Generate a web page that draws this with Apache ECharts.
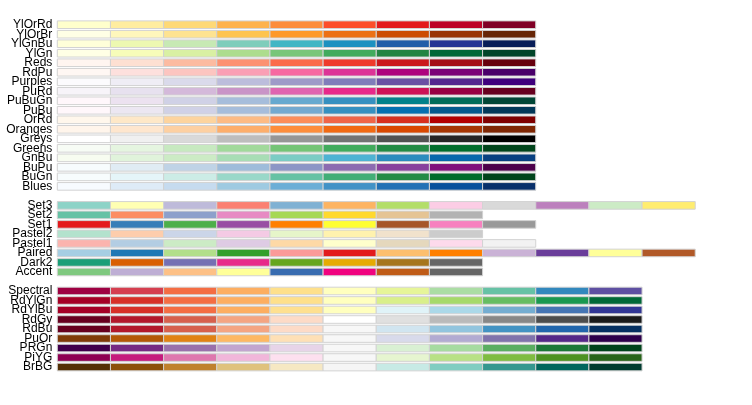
<!DOCTYPE html>
<html>
<head>
<meta charset="utf-8">
<script src="https://cdn.jsdelivr.net/npm/echarts@6/dist/echarts.min.js"></script>
<style>
    html, body { margin: 0; padding: 0; background: #fff; }
    #brewer-chart { width: 752px; height: 405px; }
</style>
</head>
<body>
<div id="brewer-chart"></div>
<script>
    // sequential
    const YlOrRd = ["#FFFFCC", "#FFEDA0", "#FED976", "#FEB24C", "#FD8D3C", "#FC4E2A", "#E31A1C", "#BD0026", "#800026"];
    const YlOrBr = ["#FFFFE5", "#FFF7BC", "#FEE391", "#FEC44F", "#FE9929", "#EC7014", "#CC4C02", "#993404", "#662506"];
    const YlGnBu = ["#FFFFD9", "#EDF8B1", "#C7E9B4", "#7FCDBB", "#41B6C4", "#1D91C0", "#225EA8", "#253494", "#081D58"];
    const YlGn = ["#FFFFE5", "#F7FCB9", "#D9F0A3", "#ADDD8E", "#78C679", "#41AB5D", "#238443", "#006837", "#004529"];
    const Reds = ["#FFF5F0", "#FEE0D2", "#FCBBA1", "#FC9272", "#FB6A4A", "#EF3B2C", "#CB181D", "#A50F15", "#67000D"];
    const RdPu = ["#FFF7F3", "#FDE0DD", "#FCC5C0", "#FA9FB5", "#F768A1", "#DD3497", "#AE017E", "#7A0177", "#49006A"];
    const Purples = ["#FCFBFD", "#EFEDF5", "#DADAEB", "#BCBDDC", "#9E9AC8", "#807DBA", "#6A51A3", "#54278F", "#3F007D"];
    const PuRd = ["#F7F4F9", "#E7E1EF", "#D4B9DA", "#C994C7", "#DF65B0", "#E7298A", "#CE1256", "#980043", "#67001F"];
    const PuBuGn = ["#FFF7FB", "#ECE2F0", "#D0D1E6", "#A6BDDB", "#67A9CF", "#3690C0", "#02818A", "#016C59", "#014636"];
    const PuBu = ["#FFF7FB", "#ECE7F2", "#D0D1E6", "#A6BDDB", "#74A9CF", "#3690C0", "#0570B0", "#045A8D", "#023858"];
    const OrRd = ["#FFF7EC", "#FEE8C8", "#FDD49E", "#FDBB84", "#FC8D59", "#EF6548", "#D7301F", "#B30000", "#7F0000"];
    const Oranges = ["#FFF5EB", "#FEE6CE", "#FDD0A2", "#FDAE6B", "#FD8D3C", "#F16913", "#D94801", "#A63603", "#7F2704"];
    const Greys = ["#FFFFFF", "#F0F0F0", "#D9D9D9", "#BDBDBD", "#969696", "#737373", "#525252", "#252525", "#000000"];
    const Greens = ["#F7FCF5", "#E5F5E0", "#C7E9C0", "#A1D99B", "#74C476", "#41AB5D", "#238B45", "#006D2C", "#00441B"];
    const GnBu = ["#F7FCF0", "#E0F3DB", "#CCEBC5", "#A8DDB5", "#7BCCC4", "#4EB3D3", "#2B8CBE", "#0868AC", "#084081"];
    const BuPu = ["#F7FCFD", "#E0ECF4", "#BFD3E6", "#9EBCDA", "#8C96C6", "#8C6BB1", "#88419D", "#810F7C", "#4D004B"];
    const BuGn = ["#F7FCFD", "#E5F5F9", "#CCECE6", "#99D8C9", "#66C2A4", "#41AE76", "#238B45", "#006D2C", "#00441B"];
    const Blues = ["#F7FBFF", "#DEEBF7", "#C6DBEF", "#9ECAE1", "#6BAED6", "#4292C6", "#2171B5", "#08519C", "#08306B"];

    // qualitative
    const Set3 = ["#8DD3C7", "#FFFFB3", "#BEBADA", "#FB8072", "#80B1D3", "#FDB462", "#B3DE69", "#FCCDE5", "#D9D9D9", "#BC80BD", "#CCEBC5", "#FFED6F"];
    const Set2 = ["#66C2A5", "#FC8D62", "#8DA0CB", "#E78AC3", "#A6D854", "#FFD92F", "#E5C494", "#B3B3B3"];
    const Set1 = ["#E41A1C", "#377EB8", "#4DAF4A", "#984EA3", "#FF7F00", "#FFFF33", "#A65628", "#F781BF", "#999999"];
    const Pastel2 = ["#B3E2CD", "#FDCDAC", "#CBD5E8", "#F4CAE4", "#E6F5C9", "#FFF2AE", "#F1E2CC", "#CCCCCC"];
    const Pastel1 = ["#FBB4AE", "#B3CDE3", "#CCEBC5", "#DECBE4", "#FED9A6", "#FFFFCC", "#E5D8BD", "#FDDAEC", "#F2F2F2"];
    const Paired = ["#A6CEE3", "#1F78B4", "#B2DF8A", "#33A02C", "#FB9A99", "#E31A1C", "#FDBF6F", "#FF7F00", "#CAB2D6", "#6A3D9A", "#FFFF99", "#B15928"];
    const Dark2 = ["#1B9E77", "#D95F02", "#7570B3", "#E7298A", "#66A61E", "#E6AB02", "#A6761D", "#666666"];
    const Accent = ["#7FC97F", "#BEAED4", "#FDC086", "#FFFF99", "#386CB0", "#F0027F", "#BF5B17", "#666666"];

    // diverging
    const Spectral = ["#9E0142", "#D53E4F", "#F46D43", "#FDAE61", "#FEE08B", "#FFFFBF", "#E6F598", "#ABDDA4", "#66C2A5", "#3288BD", "#5E4FA2"];
    const RdYlGn = ["#A50026", "#D73027", "#F46D43", "#FDAE61", "#FEE08B", "#FFFFBF", "#D9EF8B", "#A6D96A", "#66BD63", "#1A9850", "#006837"];
    const RdYlBu = ["#A50026", "#D73027", "#F46D43", "#FDAE61", "#FEE090", "#FFFFBF", "#E0F3F8", "#ABD9E9", "#74ADD1", "#4575B4", "#313695"];
    const RdGy = ["#67001F", "#B2182B", "#D6604D", "#F4A582", "#FDDBC7", "#FFFFFF", "#E0E0E0", "#BABABA", "#878787", "#4D4D4D", "#1A1A1A"];
    const RdBu = ["#67001F", "#B2182B", "#D6604D", "#F4A582", "#FDDBC7", "#F7F7F7", "#D1E5F0", "#92C5DE", "#4393C3", "#2166AC", "#053061"];
    const PuOr = ["#7F3B08", "#B35806", "#E08214", "#FDB863", "#FEE0B6", "#F7F7F7", "#D8DAEB", "#B2ABD2", "#8073AC", "#542788", "#2D004B"];
    const PRGn = ["#40004B", "#762A83", "#9970AB", "#C2A5CF", "#E7D4E8", "#F7F7F7", "#D9F0D3", "#A6DBA0", "#5AAE61", "#1B7837", "#00441B"];
    const PiYG = ["#8E0152", "#C51B7D", "#DE77AE", "#F1B6DA", "#FDE0EF", "#F7F7F7", "#E6F5D0", "#B8E186", "#7FBC41", "#4D9221", "#276419"];
    const BrBG = ["#543005", "#8C510A", "#BF812D", "#DFC27D", "#F6E8C3", "#F5F5F5", "#C7EAE5", "#80CDC1", "#35978F", "#01665E", "#003C30"];

    // row order top to bottom, "" = empty gap row
    const rowNames = [
        "YlOrRd", "YlOrBr", "YlGnBu", "YlGn", "Reds", "RdPu", "Purples", "PuRd", "PuBuGn",
        "PuBu", "OrRd", "Oranges", "Greys", "Greens", "GnBu", "BuPu", "BuGn", "Blues",
        "",
        "Set3", "Set2", "Set1", "Pastel2", "Pastel1", "Paired", "Dark2", "Accent",
        "",
        "Spectral", "RdYlGn", "RdYlBu", "RdGy", "RdBu", "PuOr", "PRGn", "PiYG", "BrBG"
    ];
    const palettes = {
        YlOrRd, YlOrBr, YlGnBu, YlGn, Reds, RdPu, Purples, PuRd, PuBuGn, PuBu, OrRd, Oranges,
        Greys, Greens, GnBu, BuPu, BuGn, Blues,
        Set3, Set2, Set1, Pastel2, Pastel1, Paired, Dark2, Accent,
        Spectral, RdYlGn, RdYlBu, RdGy, RdBu, PuOr, PRGn, PiYG, BrBG
    };

    let cells = [];
    rowNames.forEach((name, row) => {
        if (!name) return;
        palettes[name].forEach((color, col) => {
            cells.push([col, row, color]);
        });
    });

    const unitX = 53.16;
    const unitY = 9.51;

    let chart = echarts.init(document.getElementById("brewer-chart"));
    chart.setOption({
        animation: false,
        grid: {
            left: 57.3,
            top: 24.7 - unitY / 2,
            width: unitX * 13,
            height: unitY * rowNames.length
        },
        xAxis: {
            type: "value",
            min: 0,
            max: 13,
            show: false
        },
        yAxis: {
            type: "category",
            inverse: true,
            data: rowNames,
            axisLine: { show: false },
            axisTick: { show: false },
            axisLabel: {
                interval: 0,
                margin: 5,
                fontSize: 12,
                color: "#000",
                fontFamily: "Liberation Sans"
            }
        },
        series: [{
            type: "custom",
            data: cells,
            renderItem: function (params, api) {
                let start = api.coord([api.value(0), api.value(1)]);
                let size = api.size([1, 1]);
                let h = size[1] * 0.8;
                return {
                    type: "rect",
                    shape: {
                        x: start[0],
                        y: start[1] - h / 2,
                        width: size[0],
                        height: h
                    },
                    style: {
                        fill: cells[params.dataIndex][2],
                        stroke: "#D3D3D3",
                        lineWidth: 1
                    }
                };
            }
        }]
    });
</script>
</body>
</html>
